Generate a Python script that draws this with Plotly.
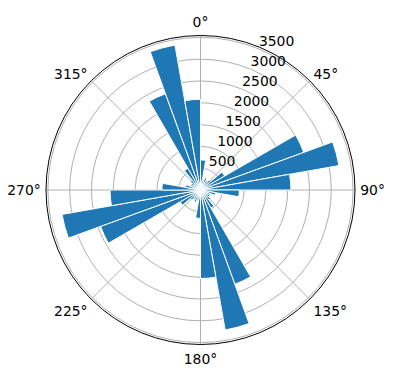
import plotly.graph_objects as go

# bin start angles (degrees, compass, clockwise from north), 10-degree bins
bin_start = list(range(0, 360, 10))
counts = [690, 250, 300, 250, 300, 640, 2520, 3225, 2075,
          890, 350, 250, 250, 300, 480, 2300, 3260, 2030,
          650, 250, 300, 250, 300, 540, 2440, 3225, 2075,
          885, 350, 250, 250, 300, 575, 2350, 3375, 2080]
bin_width = 10
radial_ticks = [500, 1000, 1500, 2000, 2500, 3000, 3500]
radial_label_angle = 22.5
angle_ticks = [0, 45, 90, 135, 180, 225, 270, 315]
angle_labels = [f"{a}°" for a in angle_ticks]

theta = [b + bin_width / 2 for b in bin_start]
rmax = max(counts) * 1.05

fig = go.Figure()
fig.add_trace(go.Barpolar(
    r=counts, theta=theta, width=[bin_width] * len(counts),
    marker=dict(color="#1f77b4", line=dict(color="white", width=1)),
    opacity=1,
))
fig.add_trace(go.Scatterpolar(
    r=radial_ticks, theta=[radial_label_angle] * len(radial_ticks),
    mode="text", text=[str(v) for v in radial_ticks],
    textposition="top right",
    textfont=dict(family="DejaVu Sans", size=13.9, color="black"),
    hoverinfo="skip",
))

W, H = 396, 380
cx, cy, R = 200.5, 190, 154.5
fig.update_layout(
    width=W, height=H,
    margin=dict(l=0, r=0, t=0, b=0),
    paper_bgcolor="white",
    showlegend=False,
    font=dict(family="DejaVu Sans", size=13.9, color="black"),
    polar=dict(
        domain=dict(x=[(cx - R) / W, (cx + R) / W],
                    y=[1 - (cy + R) / H, 1 - (cy - R) / H]),
        bgcolor="white",
        bargap=0,
        angularaxis=dict(
            rotation=90, direction="clockwise",
            tickmode="array", tickvals=angle_ticks, ticktext=angle_labels,
            showline=True, linecolor="black", linewidth=1,
            showgrid=True, gridcolor="#b0b0b0", gridwidth=0.8,
            ticks="outside", ticklen=2, tickcolor="rgba(0,0,0,0)",
        ),
        radialaxis=dict(
            range=[0, rmax], angle=67.5,
            tickmode="array", tickvals=radial_ticks,
            showticklabels=False,
            showline=False, ticks="",
            showgrid=True, gridcolor="#b0b0b0", gridwidth=0.8,
        ),
    ),
)

fig.write_html("out.html")
